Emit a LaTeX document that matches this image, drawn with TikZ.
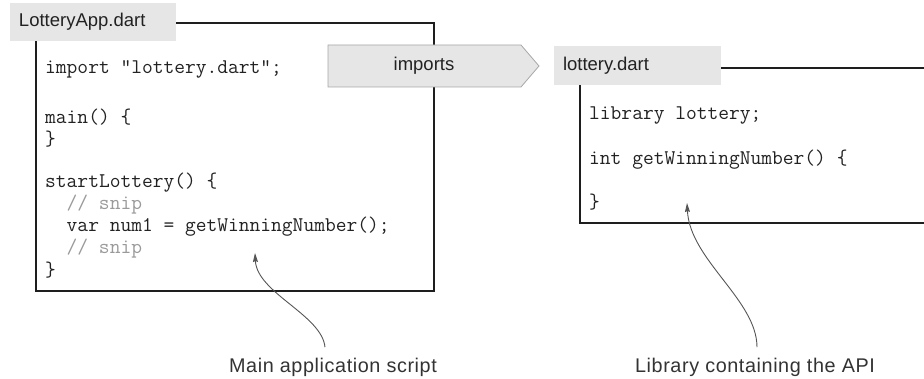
\documentclass[tikz,border=0pt]{standalone}
\usepackage{fontspec}
\setmainfont{Liberation Sans}
\newfontfamily\notefont[LetterSpace=3]{Liberation Sans}
\usepackage{xcolor}
\usetikzlibrary{arrows.meta,positioning}

\definecolor{tabgray}{HTML}{E6E6E7}
\definecolor{framecol}{HTML}{1E1E1E}
\definecolor{codecol}{HTML}{222222}
\definecolor{snipcol}{HTML}{9A9A9A}
\definecolor{notecol}{HTML}{333333}
\definecolor{pointcol}{HTML}{555555}

\tikzset{
  tab/.style={fill=tabgray, inner xsep=9pt, inner ysep=0pt, align=left,
    minimum height=38pt, font=\fontsize{18.5}{22}\selectfont, text=codecol},
  frame/.style={line width=2.5pt, draw=framecol},
  code/.style={font=\ttfamily\fontsize{20.9}{22.2}\selectfont, align=left,
    inner sep=0pt, text=codecol},
  note/.style={font=\notefont\fontsize{19.8}{22}\selectfont, text=notecol},
  pointer/.style={draw=pointcol, line width=0.9pt,
    -{Stealth[length=9pt,width=5pt,inset=1pt]}}
}
\newcommand{\snip}[1]{\textcolor{snipcol}{#1}}
\newcommand{\ind}{\hphantom{xx}}

\begin{document}
\begin{tikzpicture}[x=1pt,y=-1pt]

    \useasboundingbox (0,0) rectangle (924,379);

    % LotteryApp.dart
    \draw[frame] (176,23) -- (434,23) -- (434,291) -- (36,291) -- (36,41);
    \node[tab, text width=148pt] (apptab) at (93,22) {LotteryApp.dart};
    \node[code, anchor=north west] (appcode) at (45,60) {%
      import "lottery.dart";\\[27.8pt]
      main() \{\\
      \}\\[19.8pt]
      startLottery() \{\\
      \ind\snip{// snip}\\
      \ind var num1 = getWinningNumber();\\
      \ind\snip{// snip}\\
      \}};

    % lottery.dart
    \draw[frame] (721,68) -- (930,68) -- (930,223) -- (580,223) -- (580,85);
    \node[tab, text width=149pt, minimum height=39pt] (libtab) at (637.5,65.5) {lottery.dart};
    \node[code, anchor=north west] (libcode) at (589,106.5) {%
      library lottery;\\[22.5pt]
      int getWinningNumber() \{\\[22.5pt]
      \}};

    % imports
    \filldraw[fill=tabgray, draw=gray!70, line width=0.8pt]
      (328,45) -- (521,45) -- (539,66) -- (521,87) -- (328,87) -- cycle;
    \node[font=\fontsize{18.5}{22}\selectfont, text=codecol] (imports) at (424,66) {imports};

    % notes
    \node[note] (appnote) at (333,367) {Main application script};
    \node[note] (libnote) at (755,367) {Library containing the API};
    \coordinate (apptip) at (255,253);
    \coordinate (libtip) at (687,203);
    \draw[pointer] ([xshift=-8pt,yshift=7pt]appnote.north)
      .. controls (322,315) and (257,293) .. (apptip);
    \draw[pointer] ([xshift=2pt,yshift=7pt]libnote.north)
      .. controls (757,300) and (690,260) .. (libtip);
\end{tikzpicture}
\end{document}
